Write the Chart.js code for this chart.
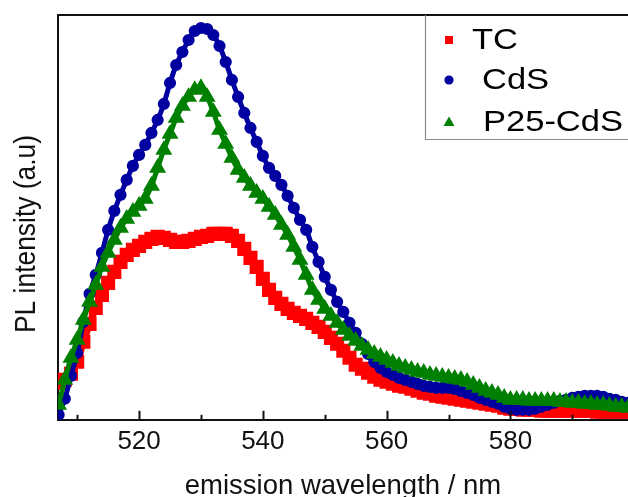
<!DOCTYPE html>
<html>
<head>
<meta charset="utf-8">
<script src="https://cdn.jsdelivr.net/npm/chart.js@4.4.1/dist/chart.umd.min.js"></script>
<style>
  html, body { margin: 0; padding: 0; background: #fff; }
  canvas { display: block; }
</style>
</head>
<body>
<canvas id="plChart" width="628" height="497"></canvas>
<script>
// emission wavelength (nm)
const wavelengths = [
  507, 508, 509, 510, 511, 512, 513, 514, 515, 516, 517, 518, 519, 520, 521, 522,
  523, 524, 525, 526, 527, 528, 529, 530, 531, 532, 533, 534, 535, 536, 537, 538,
  539, 540, 541, 542, 543, 544, 545, 546, 547, 548, 549, 550, 551, 552, 553, 554,
  555, 556, 557, 558, 559, 560, 561, 562, 563, 564, 565, 566, 567, 568, 569, 570,
  571, 572, 573, 574, 575, 576, 577, 578, 579, 580, 581, 582, 583, 584, 585, 586,
  587, 588, 589, 590, 591, 592, 593, 594, 595, 596, 597, 598, 599,
];

// PL intensity (a.u.)
const tcValues = [
  37, 40, 46, 58, 78, 96, 112, 125, 137, 148, 158, 165, 170, 174, 178, 181,
  183, 182, 180, 178, 178, 179, 181, 183, 184, 186, 186, 186, 184, 179, 171, 162,
  153, 141, 130, 122, 116, 111, 107, 104, 101, 97, 93, 88, 82, 76, 69, 62,
  55, 51, 47, 43, 40, 38, 36, 34, 33, 31, 29, 27, 26, 24, 23, 22,
  21, 20, 19, 18, 17, 16, 15, 14, 12, 11, 11, 10, 10, 10, 9, 9,
  9, 9, 9, 9, 9, 9, 9, 8, 8, 8, 8, 8, 8,
];

const cdsValues = [
  5, 21, 44, 67, 98, 126, 145, 167, 190, 209, 225, 240, 254, 265, 275, 287,
  300, 316, 337, 355, 368, 380, 389, 392, 391, 385, 374, 358, 340, 323, 307, 292,
  278, 264, 252, 244, 235, 224, 212, 200, 190, 173, 158, 143, 130, 118, 108, 97,
  87, 76, 66, 58, 52, 48, 45, 42, 40, 38, 36, 34, 33, 32, 32, 32,
  31, 29, 27, 25, 22, 20, 18, 16, 13, 11, 10, 10, 10, 11, 13, 15,
  17, 19, 20, 22, 23, 24, 24, 24, 23, 21, 20, 18, 17,
];

const p25CdsValues = [
  15, 40, 62, 80, 100, 118, 135, 153, 167, 180, 192, 201, 208, 214, 221, 234,
  252, 270, 286, 302, 314, 323, 330, 332, 323, 308, 290, 276, 262, 250, 242, 234,
  227, 221, 213, 205, 195, 185, 173, 160, 145, 130, 120, 111, 104, 97, 90, 84,
  79, 74, 70, 66, 63, 60, 57, 54, 52, 50, 48, 47, 45, 44, 43, 42,
  41, 40, 38, 35, 32, 29, 27, 25, 22, 20, 20, 20, 19, 19, 19, 19,
  19, 18, 18, 17, 17, 16, 16, 15, 15, 14, 13, 13, 12,
];

const seriesLabels = ['TC', 'CdS', 'P25-CdS'];
const majorTicks = [520, 540, 560, 580];
const minorTicks = [510, 530, 550, 570, 590];

const FONT = '"Liberation Sans", Arial, Helvetica, sans-serif';

const toPoints = (values) => values.map((v, i) => ({ x: wavelengths[i], y: v }));

// inward ticks, top spine, boxed legend and the rotated y title
const framePlugin = {
  id: 'frame',
  afterDraw(chart) {
    const { ctx, chartArea: a, scales: { x } } = chart;
    ctx.save();
    ctx.strokeStyle = '#111';
    ctx.lineWidth = 2;
    ctx.beginPath();
    ctx.moveTo(a.left - 1, a.top);
    ctx.lineTo(a.right, a.top);
    ctx.stroke();

    majorTicks.forEach((v) => {
      const px = Math.round(x.getPixelForValue(v)) + 0.5;
      ctx.beginPath();
      ctx.moveTo(px, a.bottom);
      ctx.lineTo(px, a.bottom - 9);
      ctx.stroke();
    });
    minorTicks.forEach((v) => {
      const px = Math.round(x.getPixelForValue(v)) + 0.5;
      ctx.beginPath();
      ctx.moveTo(px, a.bottom);
      ctx.lineTo(px, a.bottom - 5);
      ctx.stroke();
    });

    // legend box
    const boxLeft = 425.5, boxBottom = 139.5;
    ctx.fillStyle = '#fff';
    ctx.fillRect(boxLeft, a.top + 1, a.right - boxLeft + 10, boxBottom - a.top - 1);
    ctx.strokeStyle = '#8c8c8c';
    ctx.lineWidth = 1.2;
    ctx.beginPath();
    ctx.moveTo(boxLeft, a.top);
    ctx.lineTo(boxLeft, boxBottom);
    ctx.lineTo(a.right + 5, boxBottom);
    ctx.stroke();

    const rowY = [40, 80, 122];
    const textX = [472, 482, 483];
    chart.data.datasets.forEach((ds, i) => {
      const mx = 449, my = rowY[i];
      ctx.fillStyle = ds.pointBackgroundColor;
      if (ds.pointStyle === 'rect') {
        ctx.fillRect(mx - 4, my - 4, 8, 8);
      } else if (ds.pointStyle === 'circle') {
        ctx.beginPath();
        ctx.arc(mx, my, 4.6, 0, Math.PI * 2);
        ctx.fill();
      } else {
        ctx.beginPath();
        ctx.moveTo(mx, my - 5.5);
        ctx.lineTo(mx + 5.5, my + 4);
        ctx.lineTo(mx - 5.5, my + 4);
        ctx.closePath();
        ctx.fill();
      }
      ctx.save();
      ctx.translate(textX[i], my);
      ctx.scale(1.15, 1);
      ctx.fillStyle = '#000';
      ctx.font = '30px ' + FONT;
      ctx.textAlign = 'left';
      ctx.textBaseline = 'middle';
      ctx.fillText(ds.label, 0, 1);
      ctx.restore();
    });

    // y axis title
    ctx.save();
    ctx.translate(27, 234);
    ctx.rotate(-Math.PI / 2);
    ctx.scale(0.88, 1);
    ctx.fillStyle = '#111';
    ctx.font = '30px ' + FONT;
    ctx.textAlign = 'center';
    ctx.textBaseline = 'middle';
    ctx.fillText('PL intensity (a.u)', 0, 0);
    ctx.restore();

    ctx.restore();
  },
};

const canvas = document.getElementById('plChart');

new Chart(canvas, {
  type: 'line',
  data: {
    datasets: [
      {
        label: seriesLabels[0],
        data: toPoints(tcValues),
        borderColor: '#ff0000',
        backgroundColor: '#ff0000',
        pointBackgroundColor: '#ff0000',
        pointBorderColor: '#ff0000',
        pointStyle: 'rect',
        pointRadius: 5,
        borderWidth: 7,
        order: 3,
      },
      {
        label: seriesLabels[1],
        data: toPoints(cdsValues),
        borderColor: '#0000a0',
        backgroundColor: '#0000a0',
        pointBackgroundColor: '#0000a0',
        pointBorderColor: '#0000a0',
        pointStyle: 'circle',
        pointRadius: 3.6,
        borderWidth: 5,
        order: 2,
      },
      {
        label: seriesLabels[2],
        data: toPoints(p25CdsValues),
        borderColor: '#008000',
        backgroundColor: '#008000',
        pointBackgroundColor: '#008000',
        pointBorderColor: '#008000',
        pointStyle: 'triangle',
        pointRadius: 4.8,
        borderWidth: 5,
        order: 1,
      },
    ],
  },
  options: {
    responsive: false,
    animation: false,
    devicePixelRatio: 1,
    layout: { autoPadding: false, padding: { left: 58, top: 15, right: 0, bottom: 0 } },
    elements: {
      line: { tension: 0.3, fill: false },
      point: { borderWidth: 1, hoverRadius: 4 },
    },
    plugins: {
      legend: { display: false },
      tooltip: { enabled: false },
    },
    scales: {
      x: {
        type: 'linear',
        min: 506.9,
        max: 599,
        border: { color: '#111', width: 2 },
        grid: { display: false, drawTicks: false },
        afterBuildTicks: (scale) => {
          scale.ticks = majorTicks.map((v) => ({ value: v }));
        },
        ticks: {
          color: '#111',
          padding: 6,
          maxRotation: 0,
          font: { family: FONT, size: 26 },
        },
        title: {
          display: true,
          text: 'emission wavelength / nm',
          color: '#111',
          padding: { top: 12, bottom: 0 },
          font: { family: FONT, size: 27.5, lineHeight: 0.8 },
        },
      },
      y: {
        min: 0,
        max: 405,
        border: { color: '#111', width: 2 },
        grid: { display: false, drawTicks: false },
        ticks: { display: false },
      },
    },
  },
  plugins: [framePlugin],
});
</script>
</body>
</html>
